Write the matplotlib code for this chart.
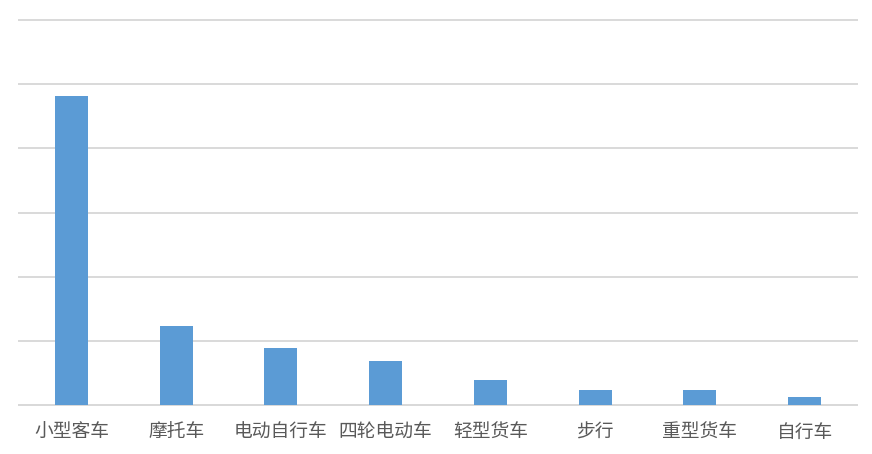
import matplotlib
matplotlib.use('Agg')
import matplotlib.pyplot as plt
import numpy as np

plt.rcParams['font.family'] = ['Noto Sans CJK SC', 'DejaVu Sans']

categories = ['小型客车', '摩托车', '电动自行车', '四轮电动车', '轻型货车', '步行', '重型货车', '自行车']
values = [4.82, 1.24, 0.90, 0.69, 0.40, 0.24, 0.24, 0.13]

W, H = 872, 454
fig = plt.figure(figsize=(W / 100, H / 100), dpi=100)
ax = fig.add_axes([19 / W, (H - 405.3) / H, (857 - 19) / W, (405.3 - 20) / H])

x = np.arange(len(categories))
ax.bar(x, values, width=0.315, color='#5B9BD5', zorder=3)

ax.set_xlim(-0.5, len(categories) - 0.5)
ax.set_ylim(0, 6)
ax.set_yticks(np.arange(0, 7, 1))
ax.yaxis.grid(True, color='#D9D9D9', linewidth=1.4, zorder=0)
for gl in ax.get_ygridlines():
    gl.set_clip_on(False)
ax.tick_params(axis='y', left=False, labelleft=False)
ax.tick_params(axis='x', length=0, pad=12)
ax.set_xticks(x)
ax.set_xticklabels(categories, fontsize=13.5, color='#595959')
for s in ['top', 'right', 'left']:
    ax.spines[s].set_visible(False)
ax.spines['bottom'].set_color('#D9D9D9')
ax.spines['bottom'].set_linewidth(1.4)

fig.savefig('out.png', dpi=100)
